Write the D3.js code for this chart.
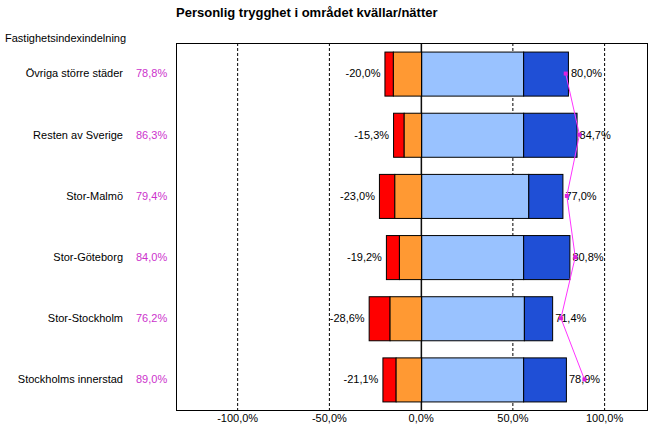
<!DOCTYPE html>
<html>
<head>
<meta charset="utf-8">
<script src="https://cdn.jsdelivr.net/npm/d3@7"></script>
<style>
  body { margin: 0; background: #fff; }
  svg { font-family: "Liberation Sans", Arial, sans-serif; }
</style>
</head>
<body>
<div id="chart"></div>
<script>
// data
const categories = ["Övriga större städer", "Resten av Sverige", "Stor-Malmö", "Stor-Göteborg", "Stor-Stockholm", "Stockholms innerstad"];
const veryUnsafe = [4.6, 5.8, 8.4, 7.1, 11.4, 7.2];
const fairlyUnsafe = [15.4, 9.5, 14.6, 12.1, 17.2, 13.9];
const fairlySafe = [55.6, 55.6, 58.4, 55.6, 56.0, 55.6];
const verySafe = [24.4, 29.1, 18.6, 25.2, 15.4, 23.3];
const negLabels = ["-20,0%", "-15,3%", "-23,0%", "-19,2%", "-28,6%", "-21,1%"];
const posLabels = ["80,0%", "84,7%", "77,0%", "80,8%", "71,4%", "78,9%"];
const indexValues = [78.8, 86.3, 79.4, 84.0, 76.2, 89.0];
const ticks = [-100, -50, 0, 50, 100];

const width = 654, height = 436;
const margin = {top: 43, right: 7, bottom: 26, left: 176};
const w = width - margin.left - margin.right;
const h = height - margin.top - margin.bottom;

const colors = ["#ff0000", "#ff9933", "#99c2ff", "#1f4fd6"];
// swedish style: comma decimal, plain hyphen
const fmt = v => d3.format(".1f")(v).replace(".", ",").replace("\u2212", "-") + "%";

const svg = d3.select("#chart").append("svg")
    .attr("width", width)
    .attr("height", height);

svg.append("text")
    .attr("x", 176).attr("y", 17)
    .style("font-size", "13px").style("font-weight", "bold")
    .text("Personlig trygghet i området kvällar/nätter");

svg.append("text")
    .attr("x", 5).attr("y", 42)
    .style("font-size", "11px")
    .text("Fastighetsindexindelning");

const g = svg.append("g")
    .attr("transform", "translate(" + margin.left + "," + margin.top + ")");

const xScale = d3.scaleLinear().domain([-133.6, 123.1]).range([0, w]);
const yScale = d3.scaleBand().domain(categories).range([0, h]).paddingInner(0.28).paddingOuter(0.14);

// grid
g.selectAll(".grid")
    .data(ticks)
    .join("line")
    .attr("class", "grid")
    .attr("x1", d => xScale(d)).attr("x2", d => xScale(d))
    .attr("y1", 0).attr("y2", h)
    .attr("stroke", "#000")
    .attr("stroke-width", 1)
    .attr("stroke-dasharray", d => d === 0 ? null : "3,2");

// stacked segments
const rows = categories.map((c, i) => {
    const segs = [];
    segs.push({x0: -(veryUnsafe[i] + fairlyUnsafe[i]), x1: -fairlyUnsafe[i], c: colors[0]});
    segs.push({x0: -fairlyUnsafe[i], x1: 0, c: colors[1]});
    segs.push({x0: 0, x1: fairlySafe[i], c: colors[2]});
    segs.push({x0: fairlySafe[i], x1: fairlySafe[i] + verySafe[i], c: colors[3]});
    return {cat: c, i: i, segs: segs};
});

const rowG = g.selectAll(".row")
    .data(rows)
    .join("g")
    .attr("class", "row")
    .attr("transform", d => "translate(0," + yScale(d.cat) + ")");

rowG.selectAll("rect")
    .data(d => d.segs)
    .join("rect")
    .attr("x", d => xScale(d.x0) + 0.5)
    .attr("y", 0.5)
    .attr("width", d => xScale(d.x1) - xScale(d.x0))
    .attr("height", yScale.bandwidth())
    .attr("fill", d => d.c)
    .attr("stroke", "#000")
    .attr("stroke-width", 1);

rowG.append("text")
    .attr("x", d => xScale(-(veryUnsafe[d.i] + fairlyUnsafe[d.i])) - 4)
    .attr("y", yScale.bandwidth() / 2)
    .attr("dy", "0.35em")
    .attr("text-anchor", "end")
    .style("font-size", "11px")
    .text(d => negLabels[d.i]);

rowG.append("text")
    .attr("x", d => xScale(fairlySafe[d.i] + verySafe[d.i]) + 3)
    .attr("y", yScale.bandwidth() / 2)
    .attr("dy", "0.35em")
    .style("font-size", "11px")
    .text(d => posLabels[d.i]);

// zero line on top
g.append("line")
    .attr("x1", xScale(0) + 0.5).attr("x2", xScale(0) + 0.5)
    .attr("y1", 0).attr("y2", h)
    .attr("stroke", "#000");

// index line
const line = d3.line()
    .x((d, i) => xScale(d))
    .y((d, i) => yScale(categories[i]) + yScale.bandwidth() / 2);

g.append("path")
    .attr("d", line(indexValues))
    .attr("fill", "none")
    .attr("stroke", "#ff33ff")
    .attr("stroke-width", 1);

g.selectAll(".marker")
    .data(indexValues)
    .join("rect")
    .attr("class", "marker")
    .attr("x", d => xScale(d) - 2)
    .attr("y", (d, i) => yScale(categories[i]) + yScale.bandwidth() / 2 - 2)
    .attr("width", 4).attr("height", 4)
    .attr("fill", "#dd22dd");

// frame
g.append("rect")
    .attr("x", 0.5).attr("y", 0.5)
    .attr("width", w).attr("height", h)
    .attr("fill", "none")
    .attr("stroke", "#000");

// x axis labels
g.selectAll(".tickLabel")
    .data(ticks)
    .join("text")
    .attr("class", "tickLabel")
    .attr("x", d => xScale(d))
    .attr("y", h + 12)
    .attr("text-anchor", "middle")
    .style("font-size", "11px")
    .text(d => fmt(d));

// category labels and index values
svg.selectAll(".catLabel")
    .data(categories)
    .join("text")
    .attr("class", "catLabel")
    .attr("x", 123)
    .attr("y", d => margin.top + yScale(d) + yScale.bandwidth() / 2)
    .attr("dy", "0.35em")
    .attr("text-anchor", "end")
    .style("font-size", "11px")
    .text(d => d);

svg.selectAll(".idxLabel")
    .data(indexValues)
    .join("text")
    .attr("class", "idxLabel")
    .attr("x", 136)
    .attr("y", (d, i) => margin.top + yScale(categories[i]) + yScale.bandwidth() / 2)
    .attr("dy", "0.35em")
    .attr("fill", "#cc33cc")
    .style("font-size", "11px")
    .text(d => fmt(d));
</script>
</body>
</html>
